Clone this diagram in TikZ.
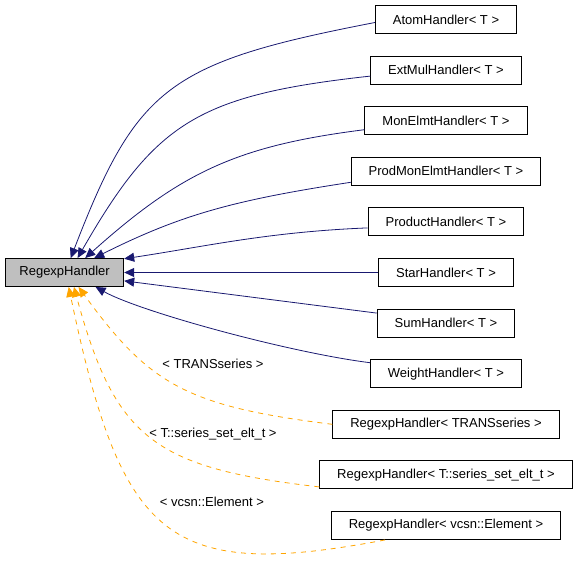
\documentclass[tikz,border=0pt]{standalone}
\usepackage{fontspec}
\setmainfont{Liberation Sans}
\usetikzlibrary{positioning, arrows.meta}
\definecolor{edgeblue}{RGB}{25, 25, 112}
\definecolor{edgeorange}{RGB}{255, 165, 0}
\definecolor{basegray}{RGB}{191, 191, 191}
\tikzstyle{handler} = [rectangle, draw=black, fill=white,
                       minimum height=28pt, inner xsep=17.5pt, inner ysep=0pt,
                       text=black, line width=0.9pt,
                       font=\fontsize{13}{15}\selectfont]
\tikzstyle{tlabel} = [text=black, font=\fontsize{13}{15}\selectfont]
\tikzstyle{inherit} = [draw=edgeblue, line width=0.8pt,
                       -{Triangle[length=10pt,width=9pt]}]
\tikzstyle{templ} = [draw=edgeorange, line width=0.8pt, dash pattern=on 5pt off 5pt,
                     -{Triangle[length=10pt,width=9pt]}]

\begin{document}
\begin{tikzpicture}[x=1pt, y=-1pt, node distance=21.7pt]
        \useasboundingbox (0,0) rectangle (581,567);

        %Derived handlers
        \node (atom) [handler] at (446,19.5) {AtomHandler< T >};
        \node (extmul) [handler, below=of atom] {ExtMulHandler< T >};
        \node (monelmt) [handler, below=of extmul] {MonElmtHandler< T >};
        \node (prodmon) [handler, below=of monelmt] {ProdMonElmtHandler< T >};
        \node (product) [handler, below=of prodmon] {ProductHandler< T >};
        \node (star) [handler, below=of product] {StarHandler< T >};
        \node (sum) [handler, below=of star] {SumHandler< T >};
        \node (weight) [handler, below=of sum] {WeightHandler< T >};

        %Template instances
        \node (tseries) [handler, below=of weight] {RegexpHandler< TRANSseries >};
        \node (tsset) [handler, below=of tseries] {RegexpHandler< T::series\_set\_elt\_t >};
        \node (tvcsn) [handler, below=of tsset] {RegexpHandler< vcsn::Element >};

        %Base class
        \node (base) [handler, fill=basegray, inner xsep=14pt, left=254pt of star] {RegexpHandler};

        %Inheritance edges
        \draw [inherit] ([yshift=-3pt]atom.west) .. controls +(-207,40) and +(66,-171) .. (base.67);
        \draw [inherit] ([yshift=-6pt]extmul.west) .. controls +(-172,19) and +(78,-136) .. (base.48);
        \draw [inherit] ([yshift=-9pt]monelmt.west) .. controls +(-127,16) and +(96,-86) .. (base.35);
        \draw [inherit] ([yshift=-11pt]prodmon.west) .. controls +(-118,18) and +(86,-43) .. (base.26);
        \draw [inherit] ([yshift=-6pt]product.west) .. controls +(-100,4) and +(80,-12) .. (base.13);
        \draw [inherit] (star.west) -- (base.east);
        \draw [inherit] ([yshift=10pt]sum.west) -- (base.-8);
        \draw [inherit] ([yshift=11pt]weight.west) .. controls +(-80,-10) and +(45,25) .. (base.-25);

        %Template edges
        \draw [templ] (tseries.west) .. controls +(-145,-18) and +(71,98) .. (base.-46);
        \draw [templ] ([yshift=-12pt]tsset.west) .. controls +(-165,-19) and +(41,152) .. (base.-57);
        \draw [templ] ([xshift=-61pt]tvcsn.south) .. controls +(-217,41) and +(53,254) .. (base.-74);

        %Template labels
        \node (lseries) [tlabel] at (213,364) {< TRANSseries >};
        \node (lsset) [tlabel] at (213,434) {< T::series\_set\_elt\_t >};
        \node (lvcsn) [tlabel] at (212,502) {< vcsn::Element >};

\end{tikzpicture}
\end{document}
